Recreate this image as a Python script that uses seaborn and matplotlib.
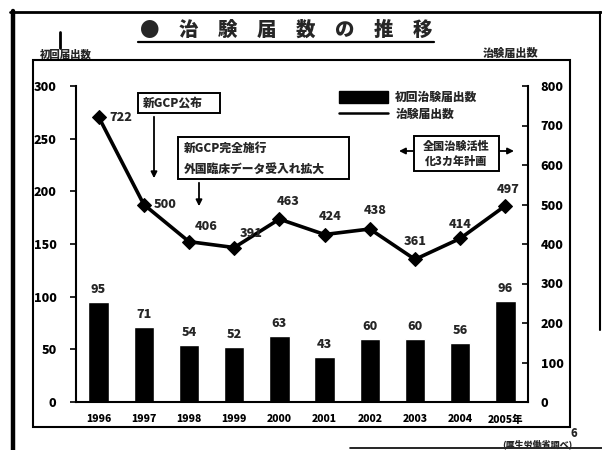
import numpy as np
import pandas as pd
import matplotlib
matplotlib.use("Agg")
import matplotlib.pyplot as plt
import seaborn as sns
from matplotlib.patches import Patch, Rectangle, FancyArrowPatch
from matplotlib.lines import Line2D

# Data
years = ["1996", "1997", "1998", "1999", "2000", "2001", "2002", "2003", "2004", "2005"]
xtick_labels = ["1996", "1997", "1998", "1999", "2000", "2001", "2002", "2003", "2004", "2005年"]
first_filings = [95, 71, 54, 52, 63, 43, 60, 60, 56, 96]
total_filings = [722, 500, 406, 391, 463, 424, 438, 361, 414, 497]
left_ticks = [0, 50, 100, 150, 200, 250, 300]
right_ticks = [0, 100, 200, 300, 400, 500, 600, 700, 800]

sns.set_style("white")
plt.rcParams["font.family"] = ["Noto Sans CJK JP", "DejaVu Sans"]
plt.rcParams["font.weight"] = "heavy"
FW = "heavy"

W, H = 602, 450
fig = plt.figure(figsize=(W / 100, H / 100), dpi=100)


def fx(px):
    return px / W


def fy(py):
    return 1 - py / H


ax = fig.add_axes([fx(76), fy(402), (528 - 76) / W, (402 - 86) / H])
df = pd.DataFrame({"year": years, "first": first_filings, "total": total_filings})

sns.barplot(data=df, x="year", y="first", color="black", saturation=1,
            width=0.45, ax=ax, zorder=2)
ax.set_xlim(-0.5, len(years) - 0.5)
ax.set_ylim(0, 300)
ax.set_yticks(left_ticks)
ax.set_yticklabels([str(t) for t in left_ticks], fontsize=9, fontweight=FW)
ax.set_xticks(range(len(years)))
ax.set_xticklabels(xtick_labels, fontsize=7.5, fontweight=FW)
ax.set_xlabel("")
ax.set_ylabel("")
ax.tick_params(axis="y", direction="out", length=4, width=1.2, pad=10, colors="black")
ax.tick_params(axis="x", length=0, pad=9, colors="black")

for i, v in enumerate(first_filings):
    ax.annotate(str(v), (i, v), xytext=(0, 5), textcoords="offset points",
                ha="center", va="bottom", fontsize=9, fontweight=FW)

ax2 = ax.twinx()
sns.lineplot(x=np.arange(len(years)), y=total_filings, ax=ax2, color="black",
             linewidth=2.6, marker="D", markersize=7, markeredgecolor="black",
             zorder=3)
ax2.set_ylim(0, 800)
ax2.set_yticks(right_ticks)
ax2.set_yticklabels([str(t) for t in right_ticks], fontsize=9, fontweight=FW)
ax2.tick_params(axis="y", direction="in", length=4, width=1.2, pad=9, colors="black")
ax2.set_ylabel("")

# value labels for the line (offsets in points)
line_offsets = [(8, 0, "left", "center"), (7, 0, "left", "center"),
                (4, 7, "left", "bottom"), (4, 6, "left", "bottom"),
                (6, 9, "center", "bottom"), (4, 9, "center", "bottom"),
                (4, 9, "center", "bottom"), (0, 9, "center", "bottom"),
                (0, 6, "center", "bottom"), (2, 8, "center", "bottom")]
for i, v in enumerate(total_filings):
    dx, dy, ha, va = line_offsets[i]
    ax2.annotate(str(v), (i, v), xytext=(dx, dy), textcoords="offset points",
                 ha=ha, va=va, fontsize=9, fontweight=FW, zorder=4)

for a in (ax, ax2):
    for s in a.spines.values():
        s.set_linewidth(1.5)
        s.set_color("black")
    a.spines["top"].set_visible(False)
ax.spines["right"].set_visible(False)
ax2.spines["left"].set_visible(False)
ax2.spines["bottom"].set_visible(False)

# legend
handles = [Patch(facecolor="black", edgecolor="black"),
           Line2D([0], [0], color="black", linewidth=1.8)]
fig.legend(handles, ["初回治験届出数", "治験届出数"], loc="upper left",
           bbox_to_anchor=(fx(328), fy(80)), frameon=False,
           handlelength=4.2, handleheight=1.2, handletextpad=0.6,
           labelspacing=0.45, prop={"weight": FW, "size": 8.5})


# page frame
def fline(xs, ys, lw):
    fig.add_artist(Line2D([fx(x) for x in xs], [fy(y) for y in ys],
                          color="black", linewidth=lw))


fline([13, 13], [11, 450], 3.2)
fline([10, 601], [12, 12], 2.0)
fline([600, 600], [12, 330], 1.5)
fline([350, 602], [448, 448], 1.2)
fline([60, 60], [32, 48], 2.0)
fig.add_artist(Rectangle((fx(33), fy(427)), (570 - 33) / W, (427 - 60) / H,
                         transform=fig.transFigure, fill=False,
                         edgecolor="black", linewidth=1.5))

# title
fig.text(fx(286), fy(30), "●　治　験　届　数　の　推　移", ha="center", va="center",
         fontsize=14, fontweight=FW)
fline([138, 434], [42, 42], 1.6)

# axis captions
fig.text(fx(40), fy(54), "初回届出数", ha="left", va="center", fontsize=7.5,
         fontweight=FW)
fig.text(fx(538), fy(53), "治験届出数", ha="right", va="center", fontsize=8,
         fontweight=FW)

# annotation boxes
fig.add_artist(Rectangle((fx(138), fy(113)), (220 - 138) / W, (113 - 93) / H,
                         transform=fig.transFigure, facecolor="white",
                         edgecolor="black", linewidth=1.4))
fig.text(fx(143), fy(103), "新GCP公布", ha="left", va="center", fontsize=8.5,
         fontweight=FW)

fig.add_artist(Rectangle((fx(178), fy(179)), (349 - 178) / W, (179 - 137) / H,
                         transform=fig.transFigure, facecolor="white",
                         edgecolor="black", linewidth=1.4))
fig.text(fx(184), fy(148), "新GCP完全施行", ha="left", va="center",
         fontsize=8.5, fontweight=FW)
fig.text(fx(184), fy(169), "外国臨床データ受入れ拡大", ha="left", va="center",
         fontsize=8.5, fontweight=FW)

fig.add_artist(Rectangle((fx(414), fy(171)), (499 - 414) / W, (171 - 136) / H,
                         transform=fig.transFigure, facecolor="white",
                         edgecolor="black", linewidth=1.4))
fig.text(fx(456), fy(146), "全国治験活性", ha="center", va="center",
         fontsize=8, fontweight=FW)
fig.text(fx(456), fy(161), "化3カ年計画", ha="center", va="center",
         fontsize=8, fontweight=FW)

arrow = dict(arrowstyle="-|>", color="black", linewidth=1.3, mutation_scale=9)
fig.add_artist(FancyArrowPatch((fx(154), fy(114)), (fx(154), fy(181)),
                               transform=fig.transFigure, **arrow))
fig.add_artist(FancyArrowPatch((fx(199), fy(180)), (fx(199), fy(209)),
                               transform=fig.transFigure, **arrow))
fig.add_artist(FancyArrowPatch((fx(413), fy(151)), (fx(399), fy(151)),
                               transform=fig.transFigure, shrinkA=0, shrinkB=0,
                               **arrow))
fig.add_artist(FancyArrowPatch((fx(500), fy(151)), (fx(514), fy(151)),
                               transform=fig.transFigure, shrinkA=0, shrinkB=0,
                               **arrow))

# footer
fig.text(fx(574), fy(433), "6", ha="center", va="center", fontsize=8,
         fontweight=FW)
fig.text(fx(537), fy(444), "(厚生労働省調べ)", ha="center", va="center",
         fontsize=6.5, fontweight=FW)

fig.savefig("out.png", dpi=100)
